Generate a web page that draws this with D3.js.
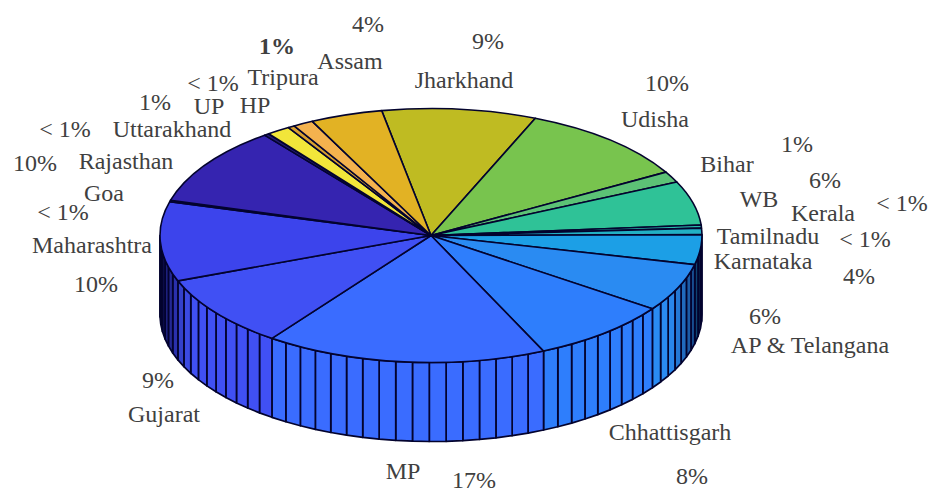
<!DOCTYPE html>
<html>
<head>
<meta charset="utf-8">
<script src="https://cdn.jsdelivr.net/npm/d3@7"></script>
<style>
  html, body { margin: 0; padding: 0; background: #fff; }
  svg { display: block; }
  text { font-family: "Liberation Serif", serif; fill: #404040; }
</style>
</head>
<body>
<svg id="chart" width="932" height="493"></svg>
<script>
// Share of each state, clockwise from Jharkhand
const states = ["Jharkhand", "Udisha", "Bihar", "WB", "Kerala", "Tamilnadu", "Karnataka",
  "AP & Telangana", "Chhattisgarh", "MP", "Gujarat", "Maharashtra", "Goa", "Rajasthan",
  "Uttarakhand", "UP", "HP", "Tripura", "Assam"];
const shares = [9.2, 10.4, 1.4, 5.6, 0.4, 0.8, 3.8, 6.1, 8.4, 16.8, 9.2, 10.1, 0.2, 10.0,
  0.3, 1.4, 0.4, 1.2, 4.3];
const sliceColors = ["#bfbb22", "#78c44e", "#5cc276", "#2fc297", "#28b9aa", "#22b0c4", "#1c9fe6",
  "#2a8bf2", "#2e7efc", "#3a6cff", "#4050f4", "#3c44ec", "#30309a", "#3524b0",
  "#241a70", "#f2e63a", "#d8a030", "#f4b24e", "#e2b224"];

// Text anchors: name position, then percentage position, in page pixels
const nameAnchors = [[464, 81], [655, 120], [727, 165], [759, 200], [823, 214], [768, 237], [763, 262],
  [810, 346], [670, 433], [403, 472], [164, 415], [92, 246], [104, 194], [126, 162],
  [172, 130], [209, 107], [255, 106], [283, 78], [350, 62]];
const shareAnchors = [[488, 42], [667, 84], [797, 145], [825, 181], [902, 204], [865, 240], [859, 277],
  [765, 317], [692, 477], [474, 481], [158, 381], [96, 285], [63, 213], [35, 164],
  [65, 130], [155, 103], [213, 84], [277, 47], [368, 25]];

const cx = 431, cy = 235.5, rx = 271, ry = 127, depth = 79;
const startAngle = -10.5 * Math.PI / 180;
const edgeColor = "#03032e";

const svg = d3.select("#chart");
const pie = d3.pie().sort(null).startAngle(startAngle).endAngle(startAngle + 2 * Math.PI);
const arcs = pie(shares);

// Ellipse projection: angle 0 is at the back of the disc, increasing clockwise
const px = a => cx + rx * Math.sin(a);
const py = a => cy - ry * Math.cos(a);

// Rim: each slice is split into 1% facets, only the front half is visible
const facets = [];
arcs.forEach((arc, i) => {
  const n = Math.max(1, Math.ceil(shares[i]));
  const step = d3.scaleLinear().domain([0, n]).range([arc.startAngle, arc.endAngle]);
  d3.range(n).forEach(k => facets.push({ a0: step(k), a1: step(k + 1), color: sliceColors[i] }));
});

const visible = facets
  .map(f => {
    // normalise into a 0..2π turn, then clamp to the front half
    const turn = 2 * Math.PI;
    const a0 = ((f.a0 % turn) + turn) % turn;
    const a1 = a0 + (f.a1 - f.a0);
    return { a0: Math.max(a0, Math.PI / 2), a1: Math.min(a1, 3 * Math.PI / 2), color: f.color };
  })
  .filter(f => f.a1 > f.a0);

// Rim darkens toward the silhouette as it turns away from the light
const shade = a => 1 - Math.min(1, Math.abs(Math.cos(a)) * 2.1);

svg.append("g").selectAll("path").data(visible).join("path")
  .attr("d", f => {
    const p = d3.path();
    p.moveTo(px(f.a0), py(f.a0));
    p.lineTo(px(f.a1), py(f.a1));
    p.lineTo(px(f.a1), py(f.a1) + depth);
    p.lineTo(px(f.a0), py(f.a0) + depth);
    p.closePath();
    return p.toString();
  })
  .attr("fill", f => d3.interpolateRgb(f.color, "#02021e")(shade((f.a0 + f.a1) / 2)))
  .attr("stroke", edgeColor)
  .attr("stroke-width", 1.7)
  .attr("stroke-linejoin", "round");

// Top face: unit-radius arcs stretched into the ellipse, stroke width kept constant
const unitArc = d3.arc().innerRadius(0).outerRadius(1);
svg.append("g")
  .attr("transform", `translate(${cx},${cy}) scale(${rx},${ry})`)
  .selectAll("path").data(arcs).join("path")
  .attr("d", unitArc)
  .attr("fill", (d, i) => sliceColors[i])
  .attr("stroke", edgeColor)
  .attr("stroke-width", 1.6)
  .attr("stroke-linejoin", "round")
  .style("vector-effect", "non-scaling-stroke");

// Percentages follow the pie's rounded values, with small shares shown as "< 1%"
const shareText = v => v < 1 ? "< 1%" : `${Math.round(v)}%`;

const labels = svg.append("g").attr("font-size", 24).attr("text-anchor", "middle");
labels.selectAll("text.name").data(states).join("text")
  .attr("class", "name")
  .attr("x", (d, i) => nameAnchors[i][0])
  .attr("y", (d, i) => nameAnchors[i][1] + 7)
  .text(d => d);
labels.selectAll("text.share").data(shares).join("text")
  .attr("class", "share")
  .attr("x", (d, i) => shareAnchors[i][0])
  .attr("y", (d, i) => shareAnchors[i][1] + 7)
  .attr("font-weight", (d, i) => states[i] === "Tripura" ? "bold" : null)
  .text(shareText);
</script>
</body>
</html>
